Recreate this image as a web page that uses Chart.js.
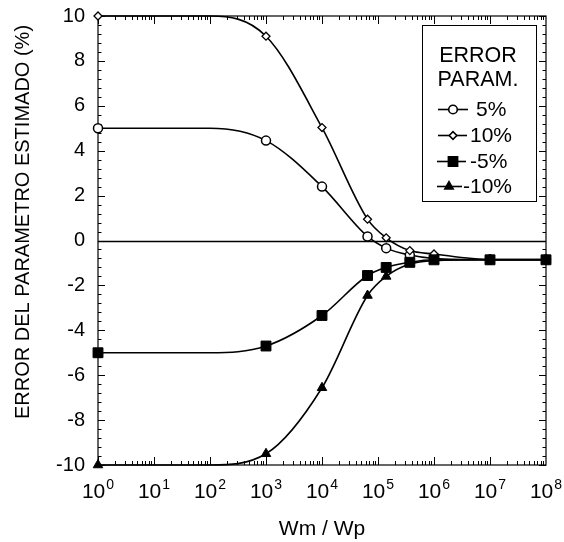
<!DOCTYPE html>
<html>
<head>
<meta charset="utf-8">
<script src="https://cdn.jsdelivr.net/npm/chart.js@4.4.1/dist/chart.umd.min.js"></script>
<style>
  html, body { margin: 0; padding: 0; background: #fff; }
</style>
</head>
<body>
<canvas id="errorChart" width="564" height="542"></canvas>
<script>
// Error del parametro estimado vs Wm / Wp
const wmWp   = [1, 1e2, 1e3, 1e4, 6.5e4, 1.4e5, 3.7e5, 1e6, 1e7, 1e8];
const err5   = [5, 5, 4.45, 2.4, 0.18, -0.34, -0.65, -0.8, -0.85, -0.85];
const err10  = [10, 10, 9.1, 5.03, 0.95, 0.12, -0.45, -0.6, -0.85, -0.85];
const errM5  = [-5, -5, -4.7, -3.34, -1.56, -1.2, -0.97, -0.86, -0.86, -0.86];
const errM10 = [-10, -10, -9.5, -6.56, -2.45, -1.6, -1.05, -0.9, -0.86, -0.86];
const seriesLabels = ['5%', '10%', '-5%', '-10%'];
const xTickValues = [1, 1e1, 1e2, 1e3, 1e4, 1e5, 1e6, 1e7, 1e8];
const legendTitle = ['ERROR', 'PARAM.'];

const FONT = "'Liberation Sans', Arial, Helvetica, sans-serif";
const SUP = ['⁰', '¹', '²', '³', '⁴', '⁵', '⁶', '⁷', '⁸', '⁹'];

function pts(ys) {
    return wmWp.map((x, i) => ({ x: x, y: ys[i] }));
}

// markers only at the measured points, the 10^2 knot only shapes the line
function radius(r) {
    return c => (wmWp[c.dataIndex] === 1e2 ? 0 : r);
}

const styles = {
    '5%':   { pointStyle: 'circle',   r: 4.5, fill: '#fff', bw: 1.5 },
    '10%':  { pointStyle: 'rectRot',  r: 4,   fill: '#fff', bw: 1.3 },
    '-5%':  { pointStyle: 'rect',     r: 7,   fill: '#000', bw: 1 },
    '-10%': { pointStyle: 'triangle', r: 5.5, fill: '#000', bw: 1 }
};

function makeSet(label, ys) {
    const s = styles[label];
    return {
        label: label,
        data: pts(ys),
        showLine: true,
        borderColor: '#000',
        borderWidth: 1.6,
        cubicInterpolationMode: 'monotone',
        pointStyle: s.pointStyle,
        pointRadius: radius(s.r),
        pointHoverRadius: radius(s.r),
        pointBackgroundColor: s.fill,
        pointBorderColor: '#000',
        pointBorderWidth: s.bw,
        clip: false
    };
}

const frame = {
    id: 'frame',
    beforeDatasetsDraw(chart) {
        const { ctx, chartArea: a, scales: { x, y } } = chart;
        ctx.save();
        ctx.strokeStyle = '#000';

        // zero line
        const y0 = Math.round(y.getPixelForValue(0)) + 0.5;
        ctx.lineWidth = 1.5;
        ctx.beginPath();
        ctx.moveTo(a.left, y0);
        ctx.lineTo(a.right, y0);
        ctx.stroke();

        // box
        ctx.lineWidth = 1.2;
        ctx.strokeRect(a.left, a.top, a.right - a.left, a.bottom - a.top);

        // log ticks, inside, top and bottom
        ctx.lineWidth = 1;
        ctx.beginPath();
        for (let d = 0; d < 8; d++) {
            for (let k = 1; k <= 9; k++) {
                const px = Math.round(x.getPixelForValue(k * Math.pow(10, d))) + 0.5;
                const len = k === 1 ? 8 : 4;
                ctx.moveTo(px, a.bottom);
                ctx.lineTo(px, a.bottom - len);
                ctx.moveTo(px, a.top);
                ctx.lineTo(px, a.top + len);
            }
        }
        // y ticks, inside, left and right
        for (let i = 0; i <= 50; i++) {
            const v = -10 + i * 0.4;
            const py = Math.round(y.getPixelForValue(v)) + 0.5;
            const len = i % 5 === 0 ? 7 : 3.5;
            ctx.moveTo(a.left, py);
            ctx.lineTo(a.left + len, py);
            ctx.moveTo(a.right, py);
            ctx.lineTo(a.right - len, py);
        }
        ctx.stroke();
        ctx.restore();
    },
    afterDraw(chart) {
        const { ctx, chartArea: a, scales: { x } } = chart;
        ctx.save();
        ctx.fillStyle = '#000';
        ctx.textBaseline = 'alphabetic';

        // x tick labels 10^n
        xTickValues.forEach(v => {
            const n = Math.round(Math.log10(v));
            const px = x.getPixelForValue(v);
            ctx.font = '21px ' + FONT;
            const wb = ctx.measureText('10').width;
            ctx.font = '14px ' + FONT;
            const we = ctx.measureText(String(n)).width;
            const left = px - (wb + we + 1) / 2;
            ctx.font = '21px ' + FONT;
            ctx.textAlign = 'left';
            ctx.fillText('10', left, 498);
            ctx.font = '14px ' + FONT;
            ctx.fillText(String(n), left + wb + 1, 489);
        });

        // axis titles
        ctx.font = '21px ' + FONT;
        ctx.textAlign = 'center';
        ctx.fillText('Wm / Wp', (a.left + a.right) / 2, 535);

        ctx.save();
        ctx.translate(29, 222);
        ctx.rotate(-Math.PI / 2);
        ctx.font = '20px ' + FONT;
        ctx.fillText('ERROR DEL PARAMETRO ESTIMADO (%)', 0, 0);
        ctx.restore();

        // legend box
        ctx.strokeStyle = '#000';
        ctx.lineWidth = 1;
        ctx.strokeRect(422.5, 25.5, 114, 176);
        ctx.font = '21.5px ' + FONT;
        ctx.textAlign = 'center';
        ctx.fillText(legendTitle[0], 478, 62);
        ctx.fillText(legendTitle[1], 478, 86);

        const rows = [
            { base: 116, tx: 476, lx: [438, 468], mx: 453 },
            { base: 142, tx: 470, lx: [438, 467], mx: 453 },
            { base: 168, tx: 470, lx: [437, 466], mx: 453 },
            { base: 193, tx: 463, lx: [437, 462], mx: 449 }
        ];
        const legendR = { '5%': 4.3, '10%': 3.8, '-5%': 6.5, '-10%': 4.8 };
        seriesLabels.forEach((lab, i) => {
            const r = rows[i];
            const s = styles[lab];
            const my = r.base - 6.5;
            ctx.lineWidth = 1.6;
            ctx.beginPath();
            ctx.moveTo(r.lx[0], my);
            ctx.lineTo(r.lx[1], my);
            ctx.stroke();
            ctx.fillStyle = s.fill;
            ctx.strokeStyle = '#000';
            Chart.helpers.drawPoint(ctx, {
                pointStyle: s.pointStyle,
                radius: legendR[lab],
                rotation: 0,
                borderWidth: s.bw
            }, r.mx, my);
            ctx.fillStyle = '#000';
            ctx.font = '21px ' + FONT;
            ctx.textAlign = 'left';
            ctx.fillText(lab, r.tx, r.base);
        });
        ctx.restore();
    }
};

new Chart(document.getElementById('errorChart').getContext('2d'), {
    type: 'scatter',
    data: {
        datasets: [
            makeSet('-5%', errM5),
            makeSet('-10%', errM10),
            makeSet('10%', err10),
            makeSet('5%', err5)
        ]
    },
    options: {
        responsive: false,
        devicePixelRatio: 1,
        animation: false,
        layout: { padding: { top: 16, right: 18, left: 0, bottom: 0 } },
        plugins: {
            legend: { display: false },
            tooltip: { enabled: false }
        },
        scales: {
            x: {
                type: 'logarithmic',
                min: 1,
                max: 1e8,
                grid: { display: false, drawTicks: false },
                border: { display: false },
                ticks: { display: false },
                afterFit(s) {
                    s.height = 77;
                    s.paddingLeft = 0;
                    s.paddingRight = 0;
                }
            },
            y: {
                type: 'linear',
                min: -10,
                max: 10,
                grid: { display: false, drawTicks: false },
                border: { display: false },
                ticks: {
                    stepSize: 2,
                    padding: 13,
                    color: '#000',
                    font: { family: FONT, size: 20 }
                },
                afterFit(s) {
                    s.width = 98;
                    s.paddingTop = 0;
                    s.paddingBottom = 0;
                }
            }
        }
    },
    plugins: [frame]
});
</script>
</body>
</html>
